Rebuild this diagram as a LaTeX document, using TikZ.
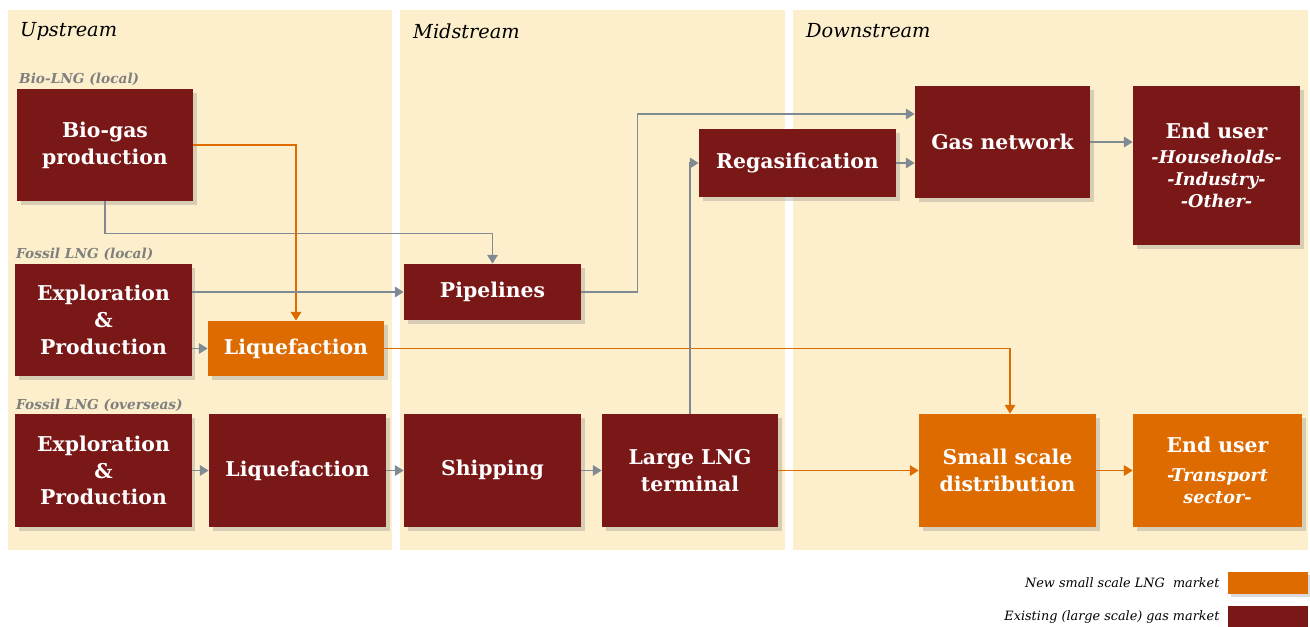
\documentclass[tikz,border=0pt]{standalone}
\usepackage{fontspec}
\setmainfont{DejaVu Serif}
\usepackage{tikz}
\usetikzlibrary{arrows.meta, positioning, shadows}
\definecolor{lngred}{HTML}{7A1717}
\definecolor{lngorange}{HTML}{DE6B00}
\definecolor{lnggray}{HTML}{808A93}
\definecolor{lngpanel}{HTML}{FDEFCC}
\definecolor{lnglabel}{HTML}{7F7F7F}
\newcommand{\usertype}{\fontsize{10}{12.5}\selectfont\itshape}

\begin{document}
\begin{tikzpicture}[x=0.02cm, y=-0.02cm,
  stage/.style={inner sep=2pt, align=center, text=white,
                font=\fontsize{11.6}{15.3}\selectfont\bfseries,
                drop shadow={opacity=0.3, shadow xshift=2pt, shadow yshift=-2pt}},
  old/.style={stage, fill=lngred},
  new/.style={stage, fill=lngorange},
  enduser/.style={font=\fontsize{11.6}{12.5}\selectfont\bfseries},
  gas/.style={draw=lnggray, line width=0.8pt, -{Triangle[width=6pt, length=5pt]}},
  lng/.style={draw=lngorange, line width=0.8pt, -{Triangle[width=6pt, length=5pt]}},
  title/.style={anchor=west, font=\fontsize{11}{13}\selectfont\itshape},
  chain/.style={anchor=west, text=lnglabel, font=\fontsize{7.8}{9}\selectfont\bfseries\itshape},
  key/.style={anchor=east, font=\fontsize{7.3}{9}\selectfont\itshape}
]
  \useasboundingbox (0,0) rectangle (1310,626);

  % Panels
  \fill[lngpanel] (8,10) rectangle (392,550);
  \fill[lngpanel] (400,10) rectangle (785,550);
  \fill[lngpanel] (793,10) rectangle (1308,550);
  \node[title] (tup) at (14,31) {Upstream};
  \node[title] (tmid) at (407,31) {Midstream};
  \node[title] (tdown) at (800,31) {Downstream};

  % Chain labels
  \node[chain] (cbio) at (13,79) {Bio-LNG (local)};
  \node[chain] (cloc) at (10,254) {Fossil LNG (local)};
  \node[chain] (cover) at (10,405) {Fossil LNG (overseas)};

  % Upstream
  \node[old, minimum width=3.52cm, minimum height=2.24cm] (bio) at (105,145) {Bio-gas\\production};
  \node[old, minimum width=3.54cm, minimum height=2.24cm] (ep1) at (103.5,320) {Exploration\\\&\\Production};
  \node[new, minimum width=3.52cm, minimum height=1.1cm] (liq1) at (296,348.5) {Liquefaction};
  \node[old, minimum width=3.54cm, minimum height=2.26cm] (ep2) at (103.5,470.5) {Exploration\\\&\\Production};
  \node[old, minimum width=3.54cm, minimum height=2.26cm] (liq2) at (297.5,470.5) {Liquefaction};

  % Midstream
  \node[old, minimum width=3.54cm, minimum height=1.12cm] (pipe) at (492.5,292) {Pipelines};
  \node[old, minimum width=3.54cm, minimum height=2.26cm] (ship) at (492.5,470.5) {Shipping};
  \node[old, minimum width=3.52cm, minimum height=2.26cm] (term) at (690,470.5) {Large LNG\\terminal};
  \node[old, minimum width=3.94cm, minimum height=1.36cm] (regas) at (797.5,163) {Regasification};

  % Downstream
  \node[old, minimum width=3.5cm, minimum height=2.24cm] (grid) at (1002.5,142) {Gas network};
  \node[old, enduser, minimum width=3.34cm, minimum height=3.18cm] (user1) at (1216.5,165.5)
    {End user\\[1.5pt]\usertype -Households-\\\usertype -Industry-\\\usertype -Other-};
  \node[new, minimum width=3.54cm, minimum height=2.26cm] (small) at (1007.5,470.5) {Small scale\\distribution};
  \node[new, enduser, minimum width=3.38cm, minimum height=2.26cm] (user2) at (1217.5,470.5)
    {End user\\[4pt]\usertype -Transport\\\usertype sector-};

  % Lines
  \draw[gas] (bio.south) -- ++(0,32) -| (pipe.north);
  \draw[lng] (bio.east) -| (liq1.north);
  \draw[gas] (ep1.east |- pipe.west) -- (pipe.west);
  \draw[gas] (ep1.east |- liq1.west) -- (liq1.west);
  \draw[lng] (liq1.east) -| ([xshift=0.05cm]small.north);
  \draw[gas] (ep2) -- (liq2);
  \draw[gas] (liq2) -- (ship);
  \draw[gas] (ship) -- (term);
  \draw[lng] (term) -- (small);
  \draw[gas] (term.north) |- (regas.west);
  \draw[gas] (pipe.east) -- ++(56,0) |- ([yshift=0.56cm]grid.west);
  \draw[gas] (regas.east) -- (regas.east -| grid.west);
  \draw[gas] (grid.east) -- (grid.east -| user1.west);
  \draw[lng] (small) -- (user2);

  % Legend
  \node[fill=lngorange, minimum width=1.6cm, minimum height=0.44cm, inner sep=0pt,
        drop shadow={opacity=0.3, shadow xshift=1.5pt, shadow yshift=-1.5pt}] (knew) at (1268,583) {};
  \node[fill=lngred, minimum width=1.6cm, minimum height=0.44cm, inner sep=0pt] (kold) at (1268,617) {};
  \node[key, left=0.04cm of knew] (tnew) {New small scale LNG\ \ market};
  \node[key, left=0.04cm of kold] (told) {Existing (large scale) gas market};
\end{tikzpicture}
\end{document}
